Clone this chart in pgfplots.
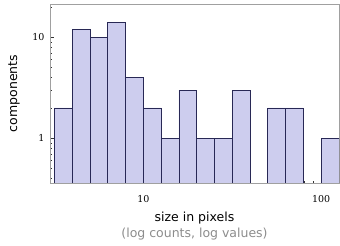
\documentclass[border=0pt]{standalone}
\usepackage{fontspec}
\setmainfont{DejaVu Sans}
\newfontfamily\tickfont{DejaVu Serif}
\usepackage{pgfplots}
\pgfplotsset{compat=1.18}
\definecolor{barfill}{RGB}{205,205,238}
\definecolor{baredge}{RGB}{40,40,85}
\definecolor{framegray}{RGB}{160,160,160}
\begin{document}
\begin{tikzpicture}
\useasboundingbox (0,0) rectangle (340pt,246pt);
\begin{axis}[
  at={(50pt,63pt)}, anchor=south west,
  scale only axis, width=289pt, height=179pt,
  xmode=log, ymode=log,
  log origin y=infty,
  xmin=2.99, xmax=125.89,
  ymin=0.36, ymax=21.4,
  axis line style={framegray, line width=0.6pt},
  tick pos=left,
  tick align=inside,
  major tick length=4pt, minor tick length=2.5pt,
  every tick/.style={black!80, line width=0.5pt},
  xtick={10,100}, xticklabels={10,100},
  ytick={1,10}, yticklabels={1,10},
  minor xtick={3,4,5,6,7,8,9,20,30,40,50,60,70,80,90},
  minor ytick={0.4,0.5,0.6,0.7,0.8,0.9,2,3,4,5,6,7,8,9,20},
  tick label style={font=\tickfont\fontsize{9.5}{11}\selectfont, black},
  xticklabel style={yshift=-9pt},
  yticklabel style={xshift=-2pt},
  every axis y label/.style={at={(axis description cs:0,0.5)}, anchor=center, xshift=-36pt, rotate=90},
  every axis x label/.style={at={(axis description cs:0.5,0)}, anchor=north, yshift=-25pt},
  label style={font=\fontsize{12.5}{16}\selectfont},
  xlabel={size in pixels\\\textcolor{black!45}{(log counts, log values)}},
  xlabel style={align=center},
  ylabel={components},
]
\addplot[ybar interval, fill=barfill, draw=baredge, line width=0.7pt] coordinates {
 (3.1623,2) (3.9811,12) (5.0119,10) (6.3096,14) (7.9433,4) (10,2)
 (12.589,1) (15.849,3) (19.953,1) (25.119,1) (31.623,3) (39.811,3)
};
\addplot[ybar interval, fill=barfill, draw=baredge, line width=0.7pt] coordinates {
 (50.119,2) (63.096,2) (79.433,2)
};
\addplot[ybar interval, fill=barfill, draw=baredge, line width=0.7pt] coordinates {
 (100,1) (125.89,1)
};
\end{axis}
\end{tikzpicture}
\end{document}
